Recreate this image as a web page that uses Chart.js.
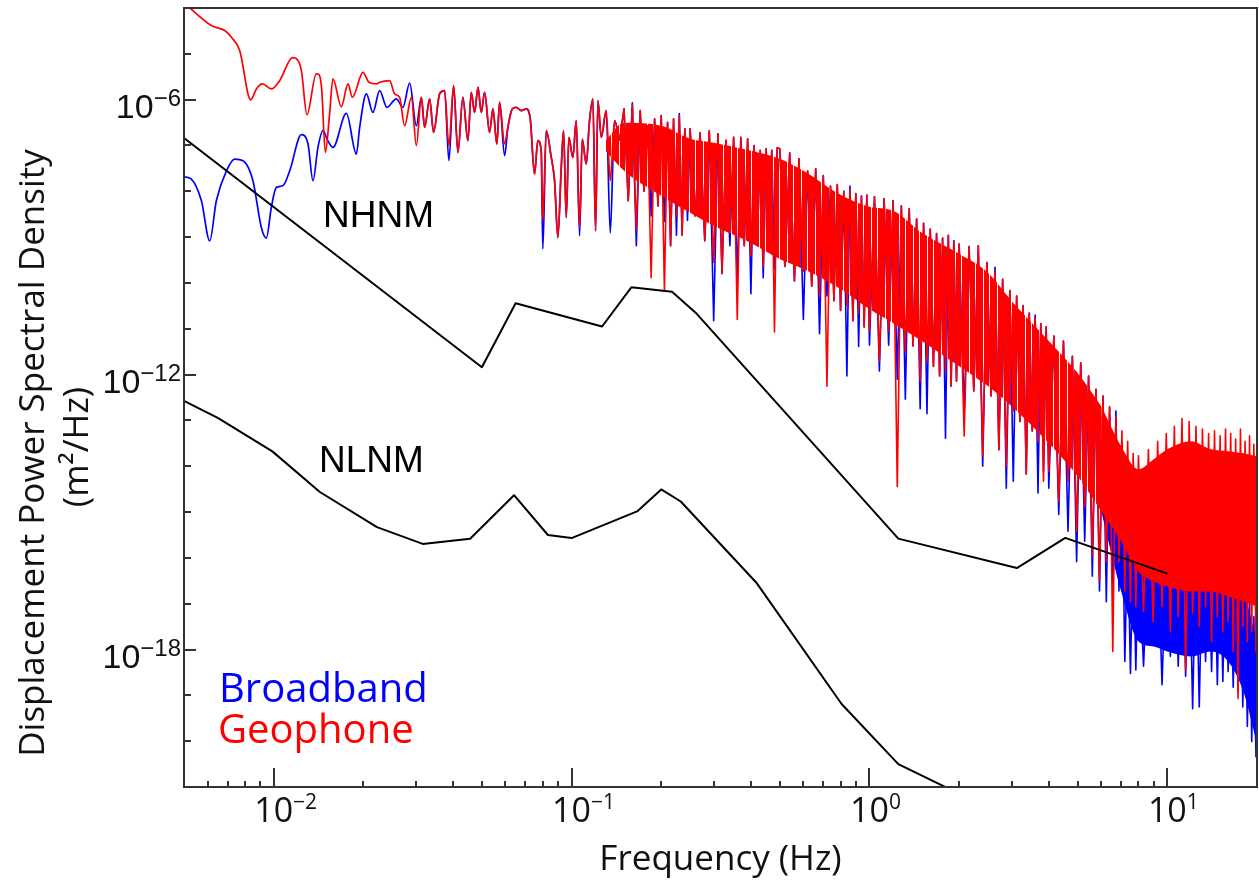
<!DOCTYPE html>
<html>
<head>
<meta charset="utf-8">
<script src="https://cdn.jsdelivr.net/npm/chart.js@4.4.0/dist/chart.umd.min.js"></script>
<style>
  html, body { margin: 0; padding: 0; background: #ffffff; }
  #wrap { width: 1259px; height: 888px; position: relative; }
</style>
</head>
<body>
<div id="wrap"><canvas id="chart" width="1259" height="888"></canvas></div>
<script>
// ---------------- DATA ----------------
// Peterson noise models (displacement PSD, m^2/Hz)
const nhnmFreq = [0.005, 0.05, 0.0649, 0.1266, 0.1587, 0.2174, 0.2632, 1.25, 3.125, 4.545, 10];
const nhnmPSD  = [1.45e-7, 1.45e-12, 3.61e-11, 1.12e-11, 8.03e-11, 6.44e-11, 2.12e-11, 2.63e-16, 6.0e-17, 2.73e-16, 4.54e-17];

const nlnmFreq = [0.005, 0.00649, 0.0099, 0.01429, 0.02222, 0.03165, 0.04566, 0.0641, 0.0833, 0.1, 0.1667, 0.2, 0.2326, 0.4167, 0.8065, 1.25, 2.5];
const nlnmPSD  = [2.67e-13, 1.14e-13, 2.11e-14, 2.74e-15, 4.68e-16, 2.02e-16, 2.62e-16, 2.33e-15, 3.16e-16, 2.70e-16, 1.05e-15, 3.12e-15, 1.70e-15, 2.91e-17, 6.47e-20, 3.16e-21, 3.52e-22];

// Low-frequency part (series differ)
const geoLowFreq = [0.005, 0.00618, 0.00685, 0.00721, 0.00769, 0.00837, 0.00875, 0.00917, 0.00982, 0.01047, 0.01158, 0.01195, 0.01239, 0.01293, 0.0139, 0.0142, 0.01449, 0.01491, 0.01541, 0.01581, 0.01687, 0.01776, 0.01837, 0.01994, 0.02088, 0.02211, 0.02268, 0.02451, 0.02547, 0.02647, 0.02751, 0.029, 0.03013, 0.03131];
const geoLowPSD  = [1.3e-4, 4.14e-5, 3.22e-5, 2.3e-5, 1.18e-5, 9.85e-7, 1.71e-6, 2.2e-6, 1.71e-6, 2.6e-6, 8.28e-6, 7.76e-6, 4.3e-6, 4.7e-7, 3.65e-6, 3.5e-6, 1.74e-6, 7.05e-8, 4.94e-7, 2.83e-6, 7.03e-7, 2.2e-6, 1.12e-6, 3.95e-6, 2.39e-6, 2.2e-6, 2.39e-6, 2.6e-6, 1.33e-6, 1.12e-6, 2.7e-7, 1.12e-6, 9.9e-8, 1.12e-6];

const bbLowFreq = [0.005, 0.00529, 0.00572, 0.0061, 0.00642, 0.00694, 0.0074, 0.00789, 0.00852, 0.00909, 0.00945, 0.00982, 0.0102, 0.01074, 0.01132, 0.01239, 0.01304, 0.01355, 0.01408, 0.01463, 0.0152, 0.01581, 0.01754, 0.01895, 0.01944, 0.02047, 0.02154, 0.02268, 0.024, 0.02581, 0.02716, 0.02861, 0.03013, 0.03131];
const bbLowPSD  = [2.07e-8, 1.85e-8, 6.2e-9, 8.3e-10, 6.2e-9, 2.8e-8, 5.06e-8, 4.65e-8, 1.7e-8, 1.62e-9, 9.5e-10, 4.43e-9, 1.21e-8, 1.32e-8, 2.8e-8, 1.72e-7, 1.08e-7, 1.7e-8, 9.06e-8, 2.1e-7, 1.27e-7, 9.06e-8, 5.0e-7, 6.5e-8, 2.48e-7, 1.33e-6, 5.27e-7, 1.57e-6, 6.8e-7, 1.04e-6, 6.8e-7, 2.29e-6, 2.7e-7, 1.12e-6];

// Mid-frequency part (shared frequencies)
const midFreq = [0.03212, 0.03338, 0.03442, 0.03606, 0.03748, 0.03875, 0.04018, 0.04155, 0.04317, 0.04487, 0.04606, 0.04727, 0.04851, 0.04977, 0.05105, 0.05307, 0.05445, 0.05614, 0.05733, 0.05959, 0.06113, 0.06324, 0.06522, 0.06779, 0.07047, 0.07268, 0.0751, 0.07705, 0.07909, 0.08008, 0.08221, 0.08549, 0.0877, 0.08995, 0.09235, 0.09401, 0.09599, 0.09795, 0.101, 0.1037, 0.1064, 0.1086, 0.112, 0.1149, 0.1179, 0.1204, 0.1226, 0.1258, 0.1307, 0.1349, 0.1394, 0.1449];
const geoMidPSD = [2.48e-7, 1.04e-6, 1.93e-7, 1.33e-6, 1.57e-6, 9.9e-8, 2.02e-6, 7.05e-8, 1.12e-6, 1.27e-7, 1.45e-6, 5.27e-7, 1.86e-6, 5.27e-7, 1.45e-6, 1.93e-7, 6.26e-7, 1.08e-7, 8.73e-7, 1.08e-7, 2.48e-7, 6.26e-7, 6.8e-7, 5.75e-7, 6.26e-7, 3.78e-7, 2.38e-8, 1.27e-7, 7.7e-8, 2.26e-9, 2.1e-7, 5.48e-8, 1.7e-8, 9.77e-10, 3.31e-8, 2.1e-7, 2.67e-9, 1.5e-7, 5.48e-8, 3.47e-7, 1.62e-9, 1.38e-7, 3.94e-8, 3.47e-7, 1.04e-6, 1.37e-9, 9.5e-7, 1.5e-7, 5.75e-7, 1.7e-8, 3.47e-7, 1.27e-7];
const bbMidPSD  = [2.48e-7, 1.04e-6, 1.93e-7, 1.33e-6, 1.57e-6, 4.65e-8, 2.02e-6, 7.05e-8, 1.12e-6, 1.27e-7, 1.45e-6, 5.27e-7, 1.86e-6, 5.27e-7, 1.45e-6, 1.93e-7, 6.26e-7, 1.08e-7, 8.73e-7, 6.0e-8, 2.48e-7, 6.26e-7, 6.8e-7, 5.75e-7, 6.26e-7, 3.78e-7, 2.38e-8, 1.27e-7, 7.7e-8, 5.5e-10, 2.1e-7, 5.48e-8, 1.7e-8, 9.77e-10, 3.31e-8, 2.1e-7, 2.67e-9, 1.5e-7, 5.48e-8, 3.47e-7, 1.06e-9, 1.38e-7, 3.94e-8, 3.47e-7, 1.04e-6, 1.37e-9, 9.5e-7, 1.5e-7, 5.75e-7, 1.24e-9, 3.47e-7, 1.27e-7];

// Dense part 0.15 - 20 Hz (shared frequencies): individual peaks and dips
const denseFreq = [
  0.150, 0.155, 0.160, 0.165, 0.170, 0.175, 0.180, 0.185, 0.190, 0.195, 0.200, 0.205, 0.210, 0.215, 0.220, 0.225, 0.230, 0.235, 0.240, 0.245,
  0.25, 0.26, 0.27, 0.28, 0.29, 0.30, 0.31, 0.32, 0.33, 0.34, 0.35, 0.36, 0.37, 0.38, 0.39, 0.40, 0.41, 0.42, 0.43, 0.44, 0.45, 0.46, 0.47, 0.48, 0.49,
  0.50, 0.52, 0.54, 0.56, 0.58, 0.60, 0.62, 0.64, 0.66, 0.68, 0.70, 0.72, 0.74, 0.76, 0.78, 0.80, 0.82, 0.84, 0.86, 0.88, 0.90, 0.92, 0.94, 0.96, 0.98,
  1.00, 1.04, 1.08, 1.12, 1.16, 1.20, 1.24, 1.28, 1.32, 1.36, 1.40, 1.44, 1.48, 1.52, 1.56, 1.60, 1.64, 1.68, 1.72, 1.76, 1.80, 1.84, 1.88, 1.92, 1.96,
  2.00, 2.08, 2.16, 2.24, 2.32, 2.40, 2.48, 2.56, 2.64, 2.72, 2.80, 2.88, 2.96, 3.04, 3.12, 3.20, 3.28, 3.36, 3.44, 3.52, 3.60, 3.68, 3.76, 3.84, 3.92,
  4.00, 4.16, 4.32, 4.48, 4.64, 4.80, 4.96, 5.12, 5.28, 5.44, 5.60, 5.76, 5.92, 6.08, 6.24, 6.40, 6.56, 6.72, 6.88, 7.04, 7.20, 7.36, 7.52, 7.68, 7.84,
  8.00, 8.32, 8.64, 8.96, 9.28, 9.60, 9.92, 10.24, 10.56, 10.88, 11.20, 11.52, 11.84, 12.16, 12.48, 12.80, 13.12, 13.44, 13.76, 14.08, 14.40, 14.72, 15.04, 15.36, 15.68,
  16.00, 16.32, 16.64, 16.96, 17.28, 17.60, 17.92, 18.24, 18.56, 18.88, 19.20, 19.52, 19.84, 20.00
];
const geoDensePSD = [
  6.3e-7, 6.2e-9, 7.8e-7, 1.4e-9, 5.8e-7, 1.0e-8, 2.7e-7, 1.3e-10, 3.8e-7, 4.8e-9, 4.5e-7, 6.8e-11, 3.2e-7, 6.5e-10, 3.8e-7, 2.9e-9, 4.5e-7, 1.1e-9, 2.3e-7, 6.2e-9,
  2.3e-7, 2.9e-9, 1.9e-7, 8.3e-10, 2.1e-7, 2.8e-10, 1.8e-7, 1.6e-10, 1.3e-7, 1.3e-9, 1.5e-7, 1.6e-11, 1.5e-7, 6.5e-10, 1.4e-7, 3.9e-10, 1.0e-7, 8.3e-10, 7.8e-8, 2.3e-10, 8.5e-8, 5.0e-10, 7.8e-8, 8.5e-12, 8.9e-8,
  8.5e-8, 2.3e-10, 6.9e-8, 1.1e-10, 5.1e-8, 1.8e-10, 2.8e-8, 8.5e-11, 3.1e-8, 5.2e-11, 2.2e-8, 5.6e-13, 1.3e-8, 4.1e-11, 1.4e-8, 2.5e-11, 1.0e-8, 3.2e-11, 1.1e-8, 1.5e-11, 8.9e-9, 2.2e-11, 7.9e-9, 1.1e-11, 8.3e-9,
  8.9e-12, 7.6e-9, 2.0e-12, 6.9e-9, 8.9e-12, 6.2e-9, 3.6e-15, 4.8e-9, 3.2e-12, 4.2e-9, 4.2e-12, 2.5e-9, 7.2e-13, 2.0e-9, 2.0e-12, 1.5e-9, 1.5e-12, 1.2e-9, 9.3e-13, 9.5e-10, 1.2e-12, 1.1e-9, 5.6e-13, 8.3e-10, 7.2e-13,
  7.1e-10, 4.6e-14, 6.2e-10, 4.4e-13, 6.5e-10, 1.7e-14, 2.8e-10, 3.4e-13, 1.8e-10, 2.3e-14, 1.2e-10, 1.0e-14, 6.8e-11, 1.6e-13, 5.2e-11, 9.5e-14, 3.2e-11, 6.8e-15, 2.2e-11, 5.9e-14, 1.7e-11, 3.5e-14, 1.3e-11, 4.7e-15, 1.1e-11,
  7.8e-15, 6.9e-12, 1.7e-15, 5.4e-12, 4.7e-15, 2.5e-12, 3.8e-16, 1.8e-12, 1.3e-15, 9.3e-13, 1.1e-16, 4.8e-13, 3.1e-17, 3.4e-13, 8.3e-17, 2.0e-13, 9.1e-19, 1.2e-13, 8.3e-17, 5.9e-14, 1.9e-17, 3.5e-14, 1.1e-17, 1.9e-14, 8.7e-18,
  1.7e-14, 6.8e-18, 2.3e-14, 4.1e-18, 3.5e-14, 8.7e-18, 5.2e-14, 2.5e-18, 7.4e-14, 5.2e-18, 1.1e-13, 3.6e-19, 9.5e-14, 6.2e-18, 7.4e-14, 3.2e-18, 6.5e-14, 8.7e-18, 5.2e-14, 1.5e-18, 5.9e-14, 5.2e-18, 4.6e-14, 2.5e-18, 6.5e-14,
  4.1e-18, 5.2e-14, 9.1e-19, 3.9e-14, 8.5e-20, 6.5e-14, 3.2e-18, 3.5e-14, 1.5e-18, 4.6e-14, 2.5e-18, 3.0e-14, 9.1e-19, 3.5e-14
];
const bbDensePSD = [
  6.3e-7, 6.2e-9, 8.5e-7, 6.5e-10, 5.8e-7, 1.0e-8, 2.7e-7, 2.9e-9, 3.8e-7, 4.8e-9, 4.5e-7, 2.2e-9, 3.2e-7, 6.5e-10, 3.8e-7, 1.1e-9, 5.0e-7, 1.1e-9, 2.3e-7, 2.3e-9,
  2.3e-7, 2.9e-9, 1.9e-7, 8.3e-10, 2.1e-7, 1.5e-11, 1.8e-7, 1.6e-10, 1.3e-7, 6.5e-10, 1.5e-7, 1.1e-10, 1.5e-7, 6.5e-10, 1.4e-7, 5.8e-11, 1.0e-7, 8.3e-10, 7.8e-8, 1.3e-10, 8.5e-8, 5.0e-10, 7.8e-8, 2.0e-10, 8.9e-8,
  8.5e-8, 2.3e-10, 6.9e-8, 1.1e-10, 5.1e-8, 1.6e-11, 2.8e-8, 8.5e-11, 3.1e-8, 7.8e-12, 2.2e-8, 5.2e-11, 1.3e-8, 4.1e-11, 1.4e-8, 2.5e-11, 1.0e-8, 9.3e-13, 1.3e-8, 1.5e-11, 8.9e-9, 4.1e-12, 7.9e-9, 1.1e-11, 8.3e-9,
  4.4e-12, 7.6e-9, 1.2e-12, 6.9e-9, 4.4e-12, 6.2e-9, 7.9e-13, 4.8e-9, 2.9e-13, 4.2e-9, 4.2e-12, 2.5e-9, 1.8e-13, 2.0e-9, 1.4e-13, 1.5e-9, 1.5e-12, 1.2e-9, 9.3e-13, 9.5e-10, 4.1e-14, 1.1e-9, 5.6e-13, 8.3e-10, 7.2e-13,
  7.1e-10, 1.6e-13, 6.2e-10, 4.4e-13, 6.5e-10, 1.0e-14, 2.8e-10, 3.4e-13, 2.2e-10, 2.3e-14, 1.2e-10, 3.3e-15, 6.8e-11, 4.7e-15, 5.2e-11, 9.5e-14, 3.2e-11, 6.8e-15, 2.2e-11, 5.9e-14, 2.0e-11, 2.6e-15, 1.3e-11, 7.8e-15, 1.1e-11,
  3.3e-15, 6.9e-12, 8.9e-16, 5.4e-12, 3.8e-16, 2.5e-12, 8.3e-17, 1.8e-12, 2.3e-16, 9.3e-13, 4.0e-17, 4.8e-13, 1.9e-17, 3.4e-13, 1.1e-17, 1.9e-13, 1.9e-17, 1.6e-13, 1.9e-17, 7.8e-15, 5.5e-19, 3.8e-16, 3.0e-19, 2.3e-16, 3.6e-19,
  1.8e-16, 4.3e-19, 1.4e-16, 1.5e-18, 2.3e-16, 1.7e-19, 1.5e-16, 7.1e-19, 2.9e-16, 4.3e-19, 3.8e-16, 2.6e-19, 2.3e-16, 5.1e-20, 1.8e-16, 5.6e-20, 1.4e-16, 5.5e-19, 1.8e-16, 3.3e-19, 2.3e-16, 1.7e-19, 1.5e-16, 2.0e-19, 1.4e-16,
  3.3e-19, 1.1e-16, 1.5e-19, 8.3e-17, 1.2e-19, 4.0e-17, 5.6e-20, 1.9e-17, 2.1e-20, 1.1e-17, 9.8e-21, 5.2e-18, 4.6e-21, 1.5e-18
];

// Envelope of the densely packed part of the spectra (bulk band)
const bandMidFreq = [0.13, 0.15, 0.2, 0.25, 0.3, 0.4, 0.5, 0.6, 0.8, 1.0, 1.2, 1.5, 2.0, 2.5, 3.0, 4.0, 5.0, 6.0];
const geoBandMidUpper = [1.27e-7, 3.14e-7, 2.7e-7, 1.41e-7, 1.15e-7, 7.67e-8, 5.13e-8, 2.8e-8, 8.38e-9, 4.58e-9, 3.75e-9, 1.24e-9, 4.31e-10, 1.66e-10, 4.05e-11, 5.4e-12, 1.08e-12, 2.05e-13];
const geoBandMidLower = [7.67e-8, 2.8e-8, 7.97e-9, 3.39e-9, 1.76e-9, 7.48e-10, 3.35e-10, 2.02e-10, 7.4e-11, 2.7e-11, 1.34e-11, 5.4e-12, 1.53e-12, 5.61e-13, 2.05e-13, 3.18e-14, 6.04e-15, 1.04e-15];
const bandHighFreq = [6.0, 7.0, 8.0, 9.0, 10, 12, 14, 16, 18, 20];
const geoBandHighUpper = [2.05e-13, 2.74e-14, 8.59e-15, 1.42e-14, 2.35e-14, 3.52e-14, 2.35e-14, 2.13e-14, 1.92e-14, 1.66e-14];
const geoBandHighLower = [1.04e-15, 2.3e-16, 5.07e-17, 3.06e-17, 2.38e-17, 1.85e-17, 1.85e-17, 1.44e-17, 1.12e-17, 8.7e-18];
const bbBandHighUpper  = [1.04e-15, 7.78e-15, 2.3e-16, 1.78e-16, 2.3e-16, 2.3e-16, 1.78e-16, 1.08e-16, 1.85e-17, 1.5e-18];
const bbBandHighLower  = [1.04e-15, 1.85e-17, 1.5e-18, 1.16e-18, 9.04e-19, 7.03e-19, 9.04e-19, 5.47e-19, 1.21e-19, 8.6e-21];

// Axis ticks and labels
const xMajorTicks = [0.01, 0.1, 1, 10];
const xMajorExp   = ['-2', '-1', '0', '1'];
const xMinorTicks = [0.006, 0.007, 0.008, 0.009, 0.02, 0.03, 0.04, 0.05, 0.06, 0.07, 0.08, 0.09,
                     0.2, 0.3, 0.4, 0.5, 0.6, 0.7, 0.8, 0.9, 2, 3, 4, 5, 6, 7, 8, 9];
const yDecadeTicks = [1e-20, 1e-19, 1e-18, 1e-17, 1e-16, 1e-15, 1e-14, 1e-13, 1e-12, 1e-11, 1e-10, 1e-9, 1e-8, 1e-7, 1e-6, 1e-5];
const yLabelTicks = [1e-6, 1e-12, 1e-18];
const yLabelExp   = ['-6', '-12', '-18'];

// ---------------- BUILD ----------------
function pts(fs, vs) { return fs.map((f, i) => ({ x: f, y: vs[i] })); }
const geoLowData = pts(geoLowFreq.concat(midFreq), geoLowPSD.concat(geoMidPSD));
const bbLowData  = pts(bbLowFreq.concat(midFreq), bbLowPSD.concat(bbMidPSD));
const geoDenseData = [geoLowData[geoLowData.length - 1]].concat(pts(denseFreq, geoDensePSD));
const bbDenseData  = [bbLowData[bbLowData.length - 1]].concat(pts(denseFreq, bbDensePSD));

const canvas = document.getElementById('chart');
function hatch(color) {
  const c = document.createElement('canvas');
  c.width = 14; c.height = 4;
  const g = c.getContext('2d');
  g.fillStyle = color;
  g.fillRect(0, 0, 14, 4);
  [3, 9].forEach(col => g.clearRect(col, 0, 1, 4));
  return canvas.getContext('2d').createPattern(c, 'repeat');
}

const AXIS = '#333333';
const overlay = {
  id: 'overlay',
  afterDatasetsDraw(chart) {
    const { ctx, chartArea: a, scales } = chart;
    const xs = scales.x, ys = scales.y;
    ctx.save();
    ctx.strokeStyle = AXIS;
    ctx.lineWidth = 2;
    ctx.strokeRect(a.left, a.top, a.right - a.left, a.bottom - a.top);
    ctx.beginPath();
    xMajorTicks.forEach(v => { const p = Math.round(xs.getPixelForValue(v)); ctx.moveTo(p, a.bottom); ctx.lineTo(p, a.bottom - 19); });
    xMinorTicks.forEach(v => { const p = Math.round(xs.getPixelForValue(v)); ctx.moveTo(p, a.bottom); ctx.lineTo(p, a.bottom - 6); });
    yDecadeTicks.forEach(v => {
      const p = Math.round(ys.getPixelForValue(v));
      const len = yLabelTicks.includes(v) ? 12 : 7;
      ctx.moveTo(a.left, p); ctx.lineTo(a.left + len, p);
    });
    ctx.stroke();

    ctx.fillStyle = '#111';
    ctx.textBaseline = 'alphabetic';
    xMajorTicks.forEach((v, i) => {
      const p = xs.getPixelForValue(v);
      ctx.font = '34px "Open Sans"';
      ctx.textAlign = 'center';
      const w = ctx.measureText('10').width;
      ctx.fillText('10', p, 822);
      ctx.font = '21px "Open Sans"';
      ctx.textAlign = 'left';
      ctx.fillText(xMajorExp[i].replace('-', '\u2212'), p + w / 2, 809);
    });
    yLabelTicks.forEach((v, i) => {
      const p = ys.getPixelForValue(v);
      ctx.font = '24px "Liberation Sans"';
      const exp = yLabelExp[i].replace('-', '\u2212');
      const we = ctx.measureText(exp).width;
      ctx.textAlign = 'left';
      ctx.fillText(exp, 181 - we, p + 6);
      ctx.font = '34px "Liberation Sans"';
      ctx.textAlign = 'right';
      ctx.fillText('10', 181 - we, p + 18);
    });
    ctx.textAlign = 'center';
    ctx.font = '35px "Open Sans"';
    ctx.fillText('Frequency (Hz)', (a.left + a.right) / 2, 870);
    ctx.save();
    ctx.translate(44, 453);
    ctx.rotate(-Math.PI / 2);
    ctx.fillText('Displacement Power Spectral Density', 0, 0);
    ctx.restore();
    ctx.save();
    ctx.translate(88, 447);
    ctx.rotate(-Math.PI / 2);
    ctx.fillText('(m\u00B2/Hz)', 0, 0);
    ctx.restore();
    ctx.textAlign = 'left';
    ctx.fillStyle = '#000';
    ctx.font = '37px "Liberation Sans"';
    ctx.fillText('NHNM', 323, 227);
    ctx.fillText('NLNM', 319, 472);
    ctx.font = '40px "Open Sans"';
    ctx.fillStyle = '#0000ff';
    ctx.fillText('Broadband', 219, 702);
    ctx.fillStyle = '#ff0000';
    ctx.fillText('Geophone', 218, 743);
    ctx.restore();
  }
};

const base = { showLine: true, pointRadius: 0, pointHoverRadius: 0, tension: 0, clip: 0, borderJoinStyle: 'round', fill: false };
function ds(extra) { return Object.assign({}, base, extra); }
const NONE = 'rgba(0,0,0,0)';
const bandStyle = { borderColor: NONE, borderWidth: 1, cubicInterpolationMode: 'monotone' };

new Chart(canvas, {
  type: 'scatter',
  data: {
    datasets: [
      ds({ label: 'NHNM', data: pts(nhnmFreq, nhnmPSD), borderColor: '#000000', borderWidth: 2 }),
      ds({ label: 'NLNM', data: pts(nlnmFreq, nlnmPSD), borderColor: '#000000', borderWidth: 2 }),
      ds({ label: 'Geophone', data: geoLowData, borderColor: '#ff0000', borderWidth: 1.7, cubicInterpolationMode: 'monotone' }),
      ds({ label: 'Geophone', data: geoDenseData, borderColor: '#ff0000', borderWidth: 1.6 }),
      ds(Object.assign({ label: 'Geophone bulk hi', data: pts(bandHighFreq, geoBandHighLower), backgroundColor: '#ff0000', fill: '+1' }, bandStyle)),
      ds(Object.assign({ label: 'Geophone bulk hi top', data: pts(bandHighFreq, geoBandHighUpper) }, bandStyle)),
      ds(Object.assign({ label: 'Geophone bulk', data: pts(bandMidFreq, geoBandMidLower), backgroundColor: hatch('#ff0000'), fill: '+1' }, bandStyle)),
      ds(Object.assign({ label: 'Geophone bulk top', data: pts(bandMidFreq, geoBandMidUpper) }, bandStyle)),
      ds({ label: 'Broadband', data: bbLowData, borderColor: '#0000ff', borderWidth: 1.7, cubicInterpolationMode: 'monotone' }),
      ds({ label: 'Broadband', data: bbDenseData, borderColor: '#0000ff', borderWidth: 1.6 }),
      ds(Object.assign({ label: 'Broadband bulk hi', data: pts(bandHighFreq, bbBandHighLower), backgroundColor: '#0000ff', fill: '+1' }, bandStyle)),
      ds(Object.assign({ label: 'Broadband bulk hi top', data: pts(bandHighFreq, bbBandHighUpper) }, bandStyle))
    ]
  },
  options: {
    responsive: false,
    animation: false,
    devicePixelRatio: 1,
    layout: { padding: { left: 184, right: 2, top: 8, bottom: 101 } },
    plugins: { legend: { display: false }, tooltip: { enabled: false } },
    events: [],
    scales: {
      x: { type: 'logarithmic', min: 0.005, max: 20, display: false },
      y: { type: 'logarithmic', min: 1e-21, max: 1e-4, display: false }
    }
  },
  plugins: [overlay]
});
</script>
</body>
</html>
